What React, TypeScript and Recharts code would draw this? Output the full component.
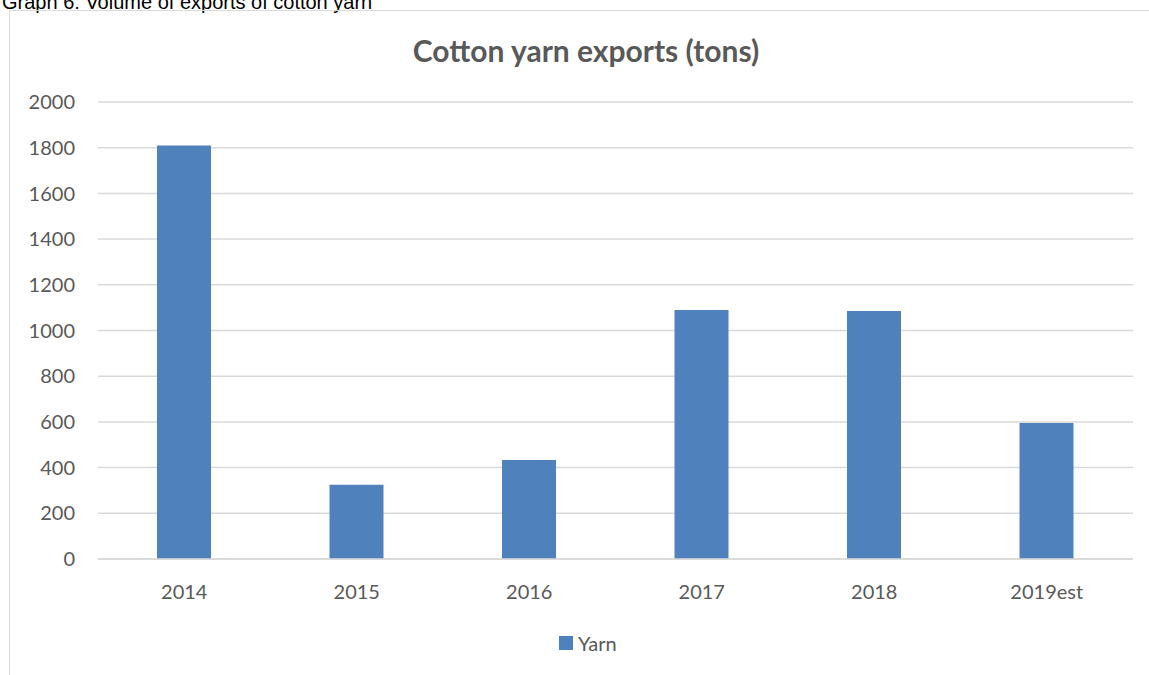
import { Bar, BarChart, CartesianGrid, XAxis, YAxis } from "recharts"

const years = ["2014", "2015", "2016", "2017", "2018", "2019est"]
const yarn = [1810, 325, 433, 1090, 1085, 595]
const yTicks = [0, 200, 400, 600, 800, 1000, 1200, 1400, 1600, 1800, 2000]

const data = years.map((year, i) => ({ year, Yarn: yarn[i] }))

const grey = "#595959"
const blue = "#4f81bd"
const font = "Lato, 'Open Sans', sans-serif"

export default function App() {
  return (
    <div style={{ position: "absolute", left: 0, top: 0, width: 1149, height: 675, overflow: "hidden", background: "#fff" }}>
      {/* caption above the chart, cut off by the page top as in the source */}
      <div
        style={{
          position: "absolute",
          left: 2,
          top: -9,
          fontFamily: "'Liberation Sans', Arial, sans-serif",
          fontSize: 20,
          lineHeight: "23px",
          color: "#000",
          whiteSpace: "nowrap",
        }}
      >
        Graph 6: Volume of exports of cotton yarn
      </div>
      <div
        style={{
          position: "absolute",
          left: 9,
          top: 10,
          width: 1300,
          height: 800,
          border: "1.5px solid #d9d9d9",
        }}
      />
      <div
        style={{
          position: "absolute",
          left: 0,
          top: 32,
          width: 1172,
          textAlign: "center",
          fontFamily: font,
          fontWeight: 700,
          fontSize: 30,
          lineHeight: "36px",
          color: grey,
          whiteSpace: "nowrap",
        }}
      >
        Cotton yarn exports (tons)
      </div>
      <div style={{ position: "absolute", left: 0, top: 0 }}>
        <BarChart
          width={1149}
          height={675}
          data={data}
          margin={{ top: 102, right: 16, bottom: 76, left: 0 }}
          barSize={54}
        >
          <CartesianGrid vertical={false} stroke="#d9d9d9" strokeWidth={1.5} />
          <XAxis
            dataKey="year"
            axisLine={{ stroke: "#d9d9d9", strokeWidth: 1.5 }}
            tickLine={false}
            tickSize={0}
            tickMargin={26}
            tick={{ fill: grey, fontSize: 20, fontFamily: font }}
            height={40}
          />
          <YAxis
            domain={[0, 2000]}
            ticks={yTicks}
            axisLine={false}
            tickLine={false}
            tickSize={0}
            tickMargin={23}
            width={98}
            interval={0}
            tick={{ fill: grey, fontSize: 20, fontFamily: font }}
          />
          <Bar dataKey="Yarn" fill={blue} isAnimationActive={false} />
        </BarChart>
      </div>
      <div
        style={{
          position: "absolute",
          left: 559,
          top: 631,
          display: "flex",
          alignItems: "center",
          fontFamily: font,
          fontSize: 20,
          lineHeight: "24px",
          color: grey,
        }}
      >
        <span style={{ display: "inline-block", width: 14, height: 14, background: blue, marginRight: 5 }} />
        Yarn
      </div>
    </div>
  )
}
